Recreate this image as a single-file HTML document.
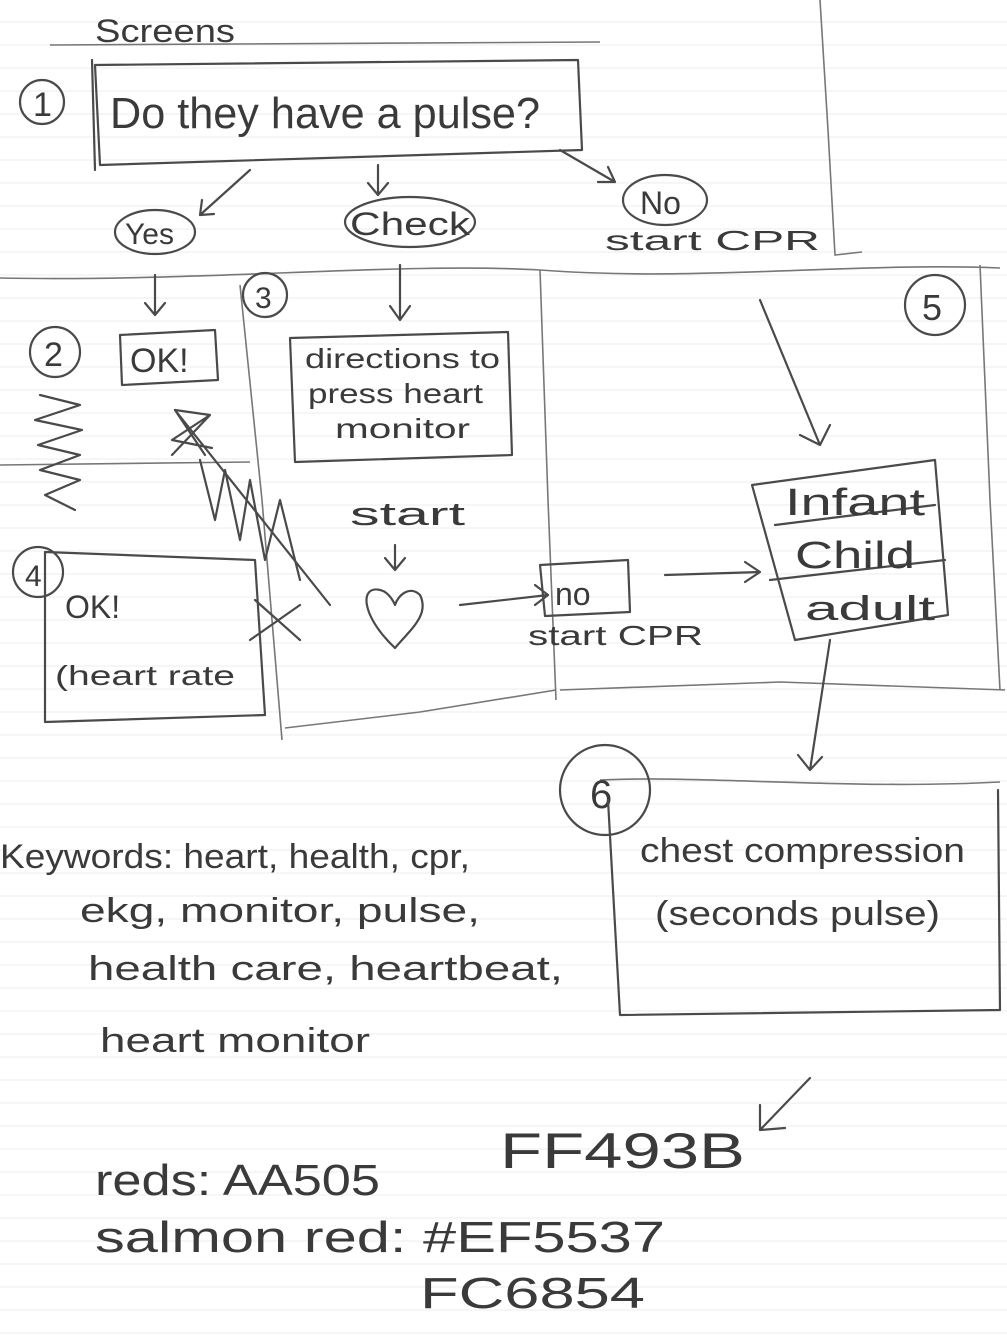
<!DOCTYPE html>
<html><head><meta charset="utf-8"><style>
html,body{margin:0;padding:0;background:#fff;}
svg{display:block;}
text{font-family:"Liberation Sans",sans-serif;fill:#3a3a3a;}
.s{fill:none;stroke:#4a4a4a;stroke-width:2.2;stroke-linecap:round;stroke-linejoin:round;}
.t{fill:none;stroke:#777;stroke-width:1.6;}
</style></head><body>
<svg width="1007" height="1335" viewBox="0 0 1007 1335" xmlns="http://www.w3.org/2000/svg">
<defs>
<pattern id="lines" width="1007" height="23" patternUnits="userSpaceOnUse">
<line x1="0" y1="22" x2="1007" y2="22" stroke="#ececec" stroke-width="1"/>
</pattern>
</defs>
<rect width="1007" height="1335" fill="#fff"/>
<rect width="1007" height="1335" fill="url(#lines)"/>

<path class="t" d="M820 0 L828 130 L835 255 L862 252"/>
<path class="t" d="M0 278 C200 282 400 262 540 270 C700 282 850 262 1000 268"/>
<path class="t" d="M980 265 L990 500 L1000 690"/>
<path class="t" d="M0 465 L250 462"/>
<path class="t" d="M540 270 L548 500 L556 700"/>
<path class="t" d="M240 285 L262 500 L282 740"/>
<path class="t" d="M285 728 L420 712 L556 690"/>
<path class="t" d="M560 690 L780 682 L1005 690"/>
<path class="t" d="M600 780 C700 775 850 790 1000 782"/>
<path class="t" d="M50 45 L600 42"/>

<text x="95" y="42" font-size="32" textLength="140" lengthAdjust="spacingAndGlyphs">Screens</text>
<circle class="s" cx="42" cy="102" r="22"/><text x="33" y="116" font-size="34">1</text>
<path class="s" d="M95 65 L578 60 L582 150 L100 165 Z"/>
<path class="s" d="M92 60 L95 170"/>
<text x="110" y="128" font-size="44" textLength="430" lengthAdjust="spacingAndGlyphs">Do they have a pulse?</text>

<path class="s" d="M250 170 L200 215 M200 215 L202 200 M200 215 L214 214"/>
<path class="s" d="M378 165 L378 195 M368 183 L378 195 L388 183"/>
<path class="s" d="M560 150 L615 182 M615 182 L598 182 M615 182 L608 167"/>

<ellipse class="s" cx="155" cy="232" rx="40" ry="22"/><text x="125" y="244" font-size="30">Yes</text>
<ellipse class="s" cx="410" cy="222" rx="65" ry="25"/><text x="350" y="235" font-size="32" textLength="120" lengthAdjust="spacingAndGlyphs">Check</text>
<ellipse class="s" cx="665" cy="200" rx="42" ry="25"/><text x="640" y="214" font-size="32">No</text>
<text x="605" y="250" font-size="28" textLength="215" lengthAdjust="spacingAndGlyphs">start CPR</text>

<path class="s" d="M155 275 L155 315 M145 303 L155 315 L165 303"/>
<path class="s" d="M400 265 L400 320 M390 306 L400 320 L410 306"/>
<circle class="s" cx="265" cy="295" r="22"/><text x="255" y="308" font-size="30">3</text>
<circle class="s" cx="55" cy="352" r="25"/><text x="44" y="366" font-size="34">2</text>
<path class="s" d="M120 335 L215 330 L218 380 L122 385 Z"/>
<text x="130" y="372" font-size="34">OK!</text>

<path class="s" d="M290 338 L508 332 L512 455 L295 462 Z"/>
<text x="305" y="368" font-size="28" textLength="195" lengthAdjust="spacingAndGlyphs">directions to</text>
<text x="308" y="403" font-size="28" textLength="175" lengthAdjust="spacingAndGlyphs">press heart</text>
<text x="335" y="438" font-size="28" textLength="135" lengthAdjust="spacingAndGlyphs">monitor</text>

<path class="s" d="M40 395 L80 405 L35 420 L82 430 L38 445 L80 455 L40 470 L80 480 L45 495 L75 510"/>
<path class="s" d="M175 410 L210 415 L172 440 L212 448 M175 410 L205 455 M210 415 L172 455"/>
<path class="s" d="M175 410 L330 605"/>
<path class="s" d="M200 460 L215 520 L225 470 L240 540 L250 480 L265 560 L280 500 L300 580"/>

<text x="350" y="525" font-size="32" textLength="115" lengthAdjust="spacingAndGlyphs">start</text>
<path class="s" d="M395 545 L395 570 M385 558 L395 570 L405 558"/>
<path class="s" d="M395 648 C360 615 360 585 380 590 C390 592 395 605 395 605 C398 595 410 585 420 595 C430 615 410 630 395 648 Z"/>
<path class="s" d="M460 605 L548 595 M535 585 L548 595 L535 605"/>
<path class="s" d="M540 565 L628 560 L630 612 L545 616 Z"/>
<text x="555" y="605" font-size="32">no</text>
<text x="528" y="645" font-size="28" textLength="175" lengthAdjust="spacingAndGlyphs">start CPR</text>
<path class="s" d="M665 575 L760 572 M745 562 L760 572 L745 582"/>

<circle class="s" cx="38" cy="572" r="25"/><text x="25" y="586" font-size="30">4</text>
<path class="s" d="M45 552 L255 560 L265 715 L45 722 Z"/>
<text x="65" y="618" font-size="32">OK!</text>
<text x="55" y="685" font-size="28" textLength="180" lengthAdjust="spacingAndGlyphs">(heart rate</text>
<path class="s" d="M255 600 L300 640 M250 640 L300 605"/>

<circle class="s" cx="935" cy="305" r="30"/><text x="922" y="320" font-size="36">5</text>
<path class="s" d="M760 300 L820 445 M800 435 L820 445 L830 425"/>
<path class="s" d="M752 485 L935 460 L948 615 L795 640 Z"/>
<path class="s" d="M775 525 L935 505 M770 580 L945 560"/>
<text x="785" y="515" font-size="38" textLength="140" lengthAdjust="spacingAndGlyphs">Infant</text>
<text x="795" y="568" font-size="38" textLength="120" lengthAdjust="spacingAndGlyphs">Child</text>
<text x="805" y="620" font-size="34" textLength="130" lengthAdjust="spacingAndGlyphs">adult</text>

<path class="s" d="M830 640 L810 770 M798 755 L810 770 L822 757"/>

<circle class="s" cx="605" cy="790" r="45"/><text x="590" y="808" font-size="40">6</text>
<path class="s" d="M608 800 L620 1015 L1000 1010 L998 790"/>
<text x="640" y="862" font-size="34" textLength="325" lengthAdjust="spacingAndGlyphs">chest compression</text>
<text x="655" y="925" font-size="34" textLength="285" lengthAdjust="spacingAndGlyphs">(seconds pulse)</text>

<text x="0" y="868" font-size="34" textLength="470" lengthAdjust="spacingAndGlyphs">Keywords: heart, health, cpr,</text>
<text x="80" y="922" font-size="34" textLength="400" lengthAdjust="spacingAndGlyphs">ekg, monitor, pulse,</text>
<text x="88" y="980" font-size="34" textLength="475" lengthAdjust="spacingAndGlyphs">health care, heartbeat,</text>
<text x="100" y="1052" font-size="34" textLength="270" lengthAdjust="spacingAndGlyphs">heart monitor</text>

<text x="500" y="1168" font-size="50" textLength="245" lengthAdjust="spacingAndGlyphs">FF493B</text>
<path class="s" d="M810 1078 L760 1130 M760 1105 L760 1130 L785 1128" stroke-width="3"/>
<text x="95" y="1195" font-size="44" textLength="285" lengthAdjust="spacingAndGlyphs">reds: AA505</text>
<text x="95" y="1252" font-size="44" textLength="570" lengthAdjust="spacingAndGlyphs">salmon red: #EF5537</text>
<text x="420" y="1308" font-size="44" textLength="225" lengthAdjust="spacingAndGlyphs">FC6854</text>
</svg>
</body></html>
